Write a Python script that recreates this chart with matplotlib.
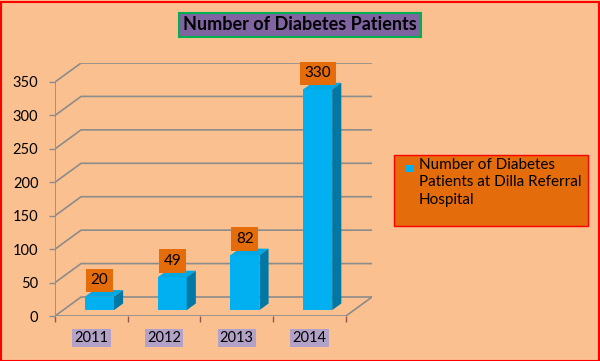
import matplotlib
matplotlib.use("Agg")
import matplotlib.pyplot as plt
from matplotlib.patches import Polygon, Rectangle

plt.rcParams['font.family'] = ['Lato', 'DejaVu Sans']

categories = ['2011', '2012', '2013', '2014']
values = [20, 49, 82, 330]
series_name = 'Number of Diabetes\nPatients at Dilla Referral\nHospital'
title = 'Number of Diabetes Patients'
yticks = [0, 50, 100, 150, 200, 250, 300, 350]

BG = '#FAC090'
BAR_FRONT = '#00B0F0'
BAR_TOP = '#00A8E6'
BAR_SIDE = '#0078A6'
ORANGE = '#E46C0A'
PURPLE = '#8064A2'
LAVENDER = '#B3A2C7'
GRID = '#8C8C8C'

W, H = 600, 361
fig = plt.figure(figsize=(6, 3.61), dpi=100, facecolor=BG)

# axes region in pixels
L, R, T, B = 55, 372, 63, 316
ax = fig.add_axes([L / W, 1 - B / H, (R - L) / W, (B - T) / H])
ax.set_facecolor('none')
for s in ax.spines.values():
    s.set_visible(False)

n = len(categories)
DX = 26 / 72.5           # depth offset in category units
DY = 28.4                # depth offset in value units
ax.set_xlim(-0.5, n - 0.5 + DX)
ax.set_ylim(0, yticks[-1] + DY)

# grid: diagonal + back horizontal lines
for t in yticks:
    ax.plot([-0.5, -0.5 + DX, n - 0.5 + DX], [t, t + DY, t + DY],
            color=GRID, lw=1.2, zorder=1, solid_capstyle='butt')
# floor front edge and right diagonal
ax.plot([-0.5, n - 0.5, n - 0.5 + DX], [0, 0, DY], color=GRID, lw=1.2, zorder=1)
# front vertical axis
ax.plot([-0.5, -0.5], [0, yticks[-1]], color=GRID, lw=1.2, zorder=1)

# 3D bars
f0, f1 = 0.31, 0.66
w = 0.4
d = f1 - f0
for i, v in enumerate(values):
    cx = i + f0 * DX
    xl, xr = cx - w / 2, cx + w / 2
    yb = f0 * DY
    yt = yb + v
    ax.add_patch(Polygon([(xl, yb), (xr, yb), (xr, yt), (xl, yt)], closed=True,
                         facecolor=BAR_FRONT, edgecolor='none', zorder=3))
    ax.add_patch(Polygon([(xl, yt), (xr, yt), (xr + d * DX, yt + d * DY), (xl + d * DX, yt + d * DY)],
                         closed=True, facecolor=BAR_TOP, edgecolor='none', zorder=3))
    ax.add_patch(Polygon([(xr, yb), (xr, yt), (xr + d * DX, yt + d * DY), (xr + d * DX, yb + d * DY)],
                         closed=True, facecolor=BAR_SIDE, edgecolor='none', zorder=3))
    ax.text(cx, yt + d * DY + 4, str(v), ha='center', va='bottom', fontsize=11,
            color='black', zorder=5,
            bbox=dict(boxstyle='square,pad=0.3', facecolor=ORANGE, edgecolor='none'))

# y ticks
ax.set_yticks(yticks)
ax.set_yticklabels([str(t) for t in yticks], fontsize=10.5)
ax.tick_params(axis='y', length=4, width=1, color=GRID, pad=8, labelcolor='black')

# x ticks
ax.set_xticks(range(n))
ax.set_xticklabels(categories, fontsize=10.5)
for lbl in ax.get_xticklabels():
    lbl.set_bbox(dict(boxstyle='square,pad=0.15', facecolor=LAVENDER, edgecolor='none'))
ax.set_xticks([i - 0.5 for i in range(n + 1)], minor=True)
ax.tick_params(axis='x', which='major', length=0, pad=11)
ax.tick_params(axis='x', which='minor', length=4, width=1, color='#A0504A')

# title
fig.text(300 / W, 1 - 25 / H, title, ha='center', va='center', fontsize=13,
         fontweight='bold', color='black',
         bbox=dict(boxstyle='square,pad=0.22', facecolor=PURPLE, edgecolor='#00B050', linewidth=1.5))

# legend box
lx0, ly0, lx1, ly1 = 394, 155, 588, 226
fig.patches.append(Rectangle((lx0 / W, 1 - ly1 / H), (lx1 - lx0) / W, (ly1 - ly0) / H,
                             transform=fig.transFigure, facecolor=ORANGE, edgecolor='#FF0000',
                             linewidth=1.0, zorder=1))
fig.patches.append(Rectangle((406 / W, 1 - 172 / H), 7 / W, 7 / H,
                             transform=fig.transFigure, facecolor=BAR_FRONT, edgecolor='none', zorder=2))
fig.text(419 / W, 1 - 158 / H, series_name, ha='left', va='top', fontsize=11,
         color='black', linespacing=1.3, zorder=3)

# figure border
fig.patches.append(Rectangle((0.5 / W, 0.5 / H), (W - 2) / W, (H - 2) / H,
                             transform=fig.transFigure, facecolor='none', edgecolor='#FF0000',
                             linewidth=1.5, zorder=0))

fig.savefig('out.png', dpi=100, facecolor=BG)
